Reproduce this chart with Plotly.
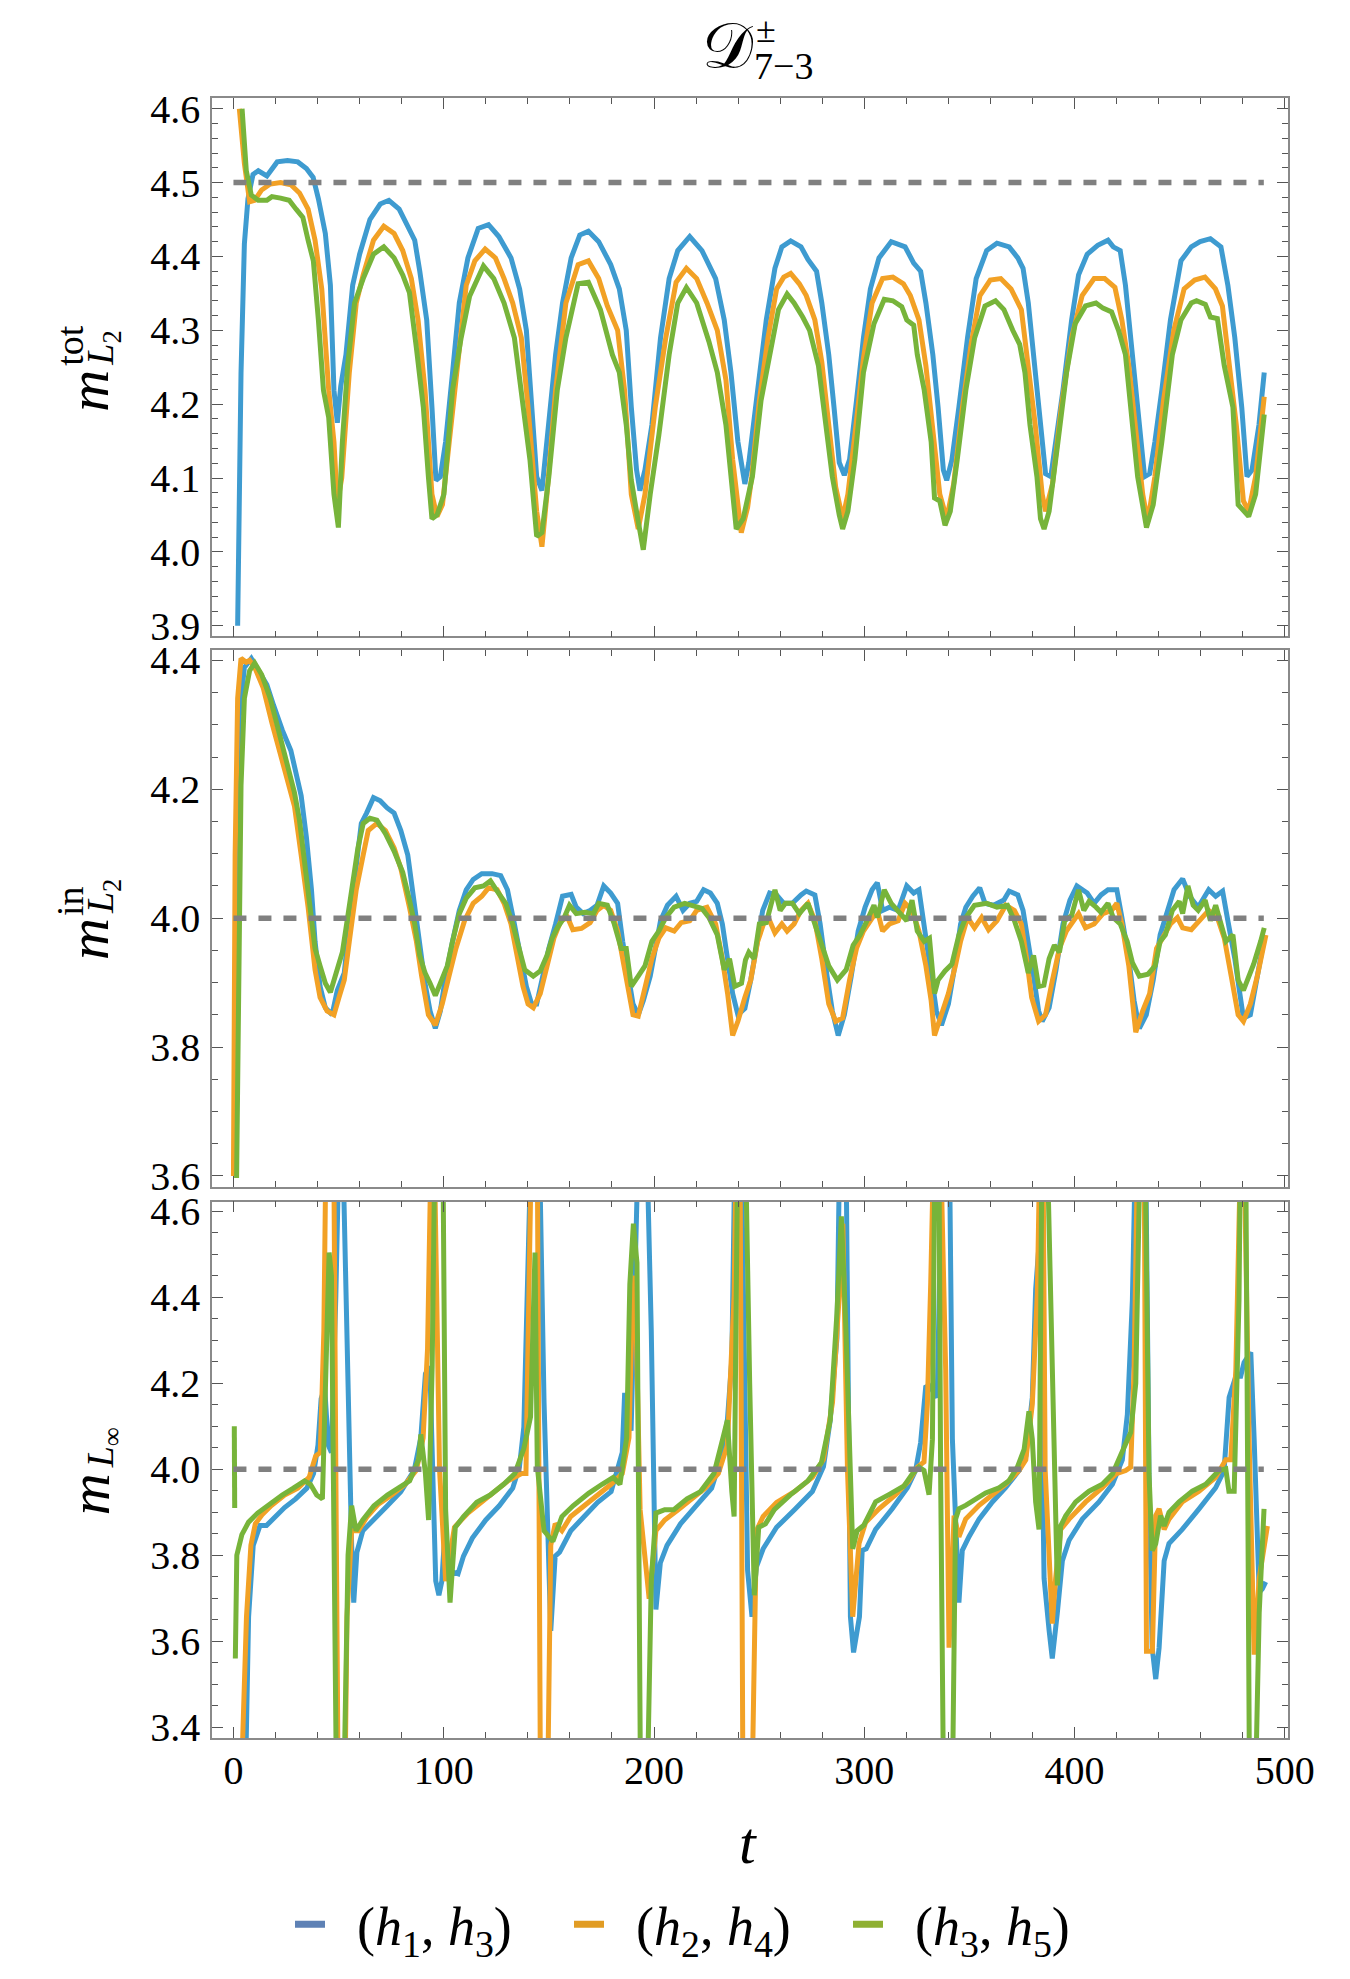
import plotly.graph_objects as go

# ---------------- data ----------------
# top panel: m^tot_{L2}
tot_h13 = [(2.0,3.90),(3.6,4.243),(5.2,4.417),(6.9,4.478),(9.3,4.511),(11.8,4.516),(15.9,4.509),(20.8,4.528),(25.7,4.530),(30.6,4.528),(34.7,4.519),(37.9,4.507),(40.4,4.478),(43.7,4.431),(46.1,4.361),(47.8,4.219),(49.4,4.175),(51.0,4.224),(53.5,4.267),(56.7,4.361),(60.0,4.403),(64.9,4.45),(69.8,4.471),(73.9,4.476),(78.8,4.464),(82.9,4.441),(86.2,4.422),(88.6,4.38),(91.9,4.314),(94.4,4.196),(96.3,4.097),(98.4,4.102),(100.9,4.149),(104.2,4.243),(107.4,4.337),(111.5,4.398),(116.4,4.438),(121.3,4.443),(126.2,4.427),(132.0,4.398),(136.1,4.356),(139.3,4.30),(141.8,4.196),(144.2,4.102),(146.7,4.083),(149.1,4.149),(153.2,4.267),(156.5,4.337),(160.6,4.398),(164.7,4.429),(168.8,4.434),(173.7,4.42),(179.4,4.389),(183.5,4.356),(186.8,4.30),(189.2,4.196),(191.7,4.111),(193.3,4.083),(195.7,4.111),(199.0,4.172),(203.1,4.29),(207.2,4.37),(211.3,4.408),(217.0,4.427),(222.8,4.408),(229.3,4.37),(233.4,4.314),(236.6,4.243),(239.9,4.149),(243.2,4.092),(245.1,4.121),(249.3,4.219),(253.4,4.314),(257.5,4.384),(260.8,4.413),(265.0,4.421),(269.9,4.413),(273.2,4.396),(277.3,4.38),(279.8,4.337),(283.1,4.267),(285.6,4.196),(288.1,4.121),(290.5,4.104),(293.0,4.125),(296.3,4.205),(299.6,4.29),(302.9,4.356),(307.0,4.398),(312.8,4.42),(319.4,4.413),(323.5,4.391),(326.8,4.38),(329.3,4.337),(332.6,4.267),(335.1,4.196),(337.6,4.111),(339.2,4.097),(341.7,4.125),(345.0,4.196),(349.1,4.29),(353.2,4.37),(358.2,4.408),(363.1,4.418),(368.9,4.413),(373.0,4.398),(375.5,4.384),(378.0,4.337),(381.3,4.243),(383.8,4.172),(386.2,4.106),(388.7,4.102),(391.2,4.149),(394.5,4.219),(398.6,4.314),(401.9,4.375),(406.0,4.403),(411.0,4.415),(415.9,4.422),(418.4,4.413),(421.7,4.408),(424.2,4.361),(427.5,4.267),(430.8,4.172),(433.3,4.102),(435.7,4.106),(438.2,4.149),(441.5,4.219),(445.6,4.314),(450.6,4.394),(455.5,4.413),(459.7,4.42),(464.6,4.424),(469.6,4.413),(472.9,4.361),(476.2,4.29),(479.5,4.196),(482.0,4.102),(484.4,4.111),(487.7,4.172),(490.2,4.243)]
tot_h24 = [(2.8,4.60),(5.2,4.526),(7.7,4.474),(10.1,4.476),(13.4,4.49),(17.5,4.498),(22.4,4.50),(27.3,4.497),(31.4,4.486),(35.5,4.464),(38.8,4.422),(42.0,4.356),(45.3,4.219),(47.8,4.149),(49.4,4.065),(51.5,4.10),(55.1,4.243),(58.4,4.337),(61.7,4.375),(66.6,4.422),(71.5,4.441),(76.4,4.431),(80.5,4.408),(84.6,4.37),(87.8,4.314),(91.1,4.219),(94.4,4.078),(96.8,4.048),(99.4,4.064),(101.7,4.125),(105.8,4.243),(110.7,4.361),(114.8,4.394),(119.7,4.41),(124.6,4.398),(128.7,4.37),(132.8,4.337),(136.9,4.29),(140.1,4.196),(144.2,4.055),(146.7,4.007),(149.1,4.078),(153.2,4.219),(158.1,4.337),(163.9,4.389),(168.8,4.394),(173.7,4.37),(177.8,4.333),(182.7,4.30),(186.0,4.219),(189.2,4.078),(192.5,4.031),(195.7,4.078),(200.6,4.196),(205.6,4.29),(210.5,4.365),(215.4,4.384),(220.3,4.37),(225.2,4.337),(230.1,4.30),(234.2,4.233),(237.4,4.125),(241.5,4.026),(244.5,4.06),(246.5,4.102),(250.1,4.205),(254.2,4.29),(258.3,4.356),(261.7,4.372),(265.0,4.377),(269.1,4.363),(272.4,4.347),(276.5,4.314),(279.8,4.257),(283.1,4.172),(286.4,4.088),(289.7,4.045),(292.2,4.078),(295.5,4.158),(299.6,4.262),(303.7,4.337),(308.7,4.37),(313.6,4.372),(318.6,4.363),(321.9,4.347),(326.0,4.314),(329.3,4.252),(332.6,4.172),(335.9,4.078),(339.2,4.045),(342.5,4.092),(346.7,4.196),(350.8,4.281),(355.0,4.347),(359.9,4.368),(364.9,4.37),(369.8,4.356),(374.7,4.328),(378.0,4.252),(381.3,4.172),(384.6,4.078),(386.2,4.055),(389.5,4.092),(393.7,4.196),(398.6,4.29),(403.6,4.347),(409.3,4.37),(414.3,4.37),(419.2,4.358),(422.5,4.314),(425.8,4.252),(429.1,4.172),(432.4,4.078),(434.8,4.041),(438.2,4.102),(442.3,4.205),(447.2,4.30),(452.1,4.356),(457.1,4.368),(462.0,4.372),(467.0,4.356),(470.3,4.333),(473.6,4.252),(476.9,4.172),(480.3,4.069),(482.8,4.055),(486.1,4.102),(490.2,4.21)]
tot_h35 = [(4.1,4.60),(6.1,4.516),(8.5,4.483),(11.8,4.476),(15.9,4.476),(18.3,4.481),(22.4,4.479),(26.5,4.476),(29.8,4.464),(33.0,4.453),(35.5,4.422),(38.0,4.394),(40.4,4.314),(42.8,4.219),(45.3,4.182),(47.8,4.078),(49.9,4.033),(51.8,4.149),(54.3,4.252),(57.6,4.337),(61.7,4.37),(66.6,4.403),(71.5,4.413),(76.4,4.398),(80.5,4.375),(83.7,4.351),(87.0,4.276),(90.3,4.196),(92.7,4.102),(94.4,4.045),(96.8,4.05),(100.1,4.078),(104.2,4.219),(108.3,4.29),(112.3,4.346),(118.9,4.387),(123.8,4.37),(128.7,4.337),(133.6,4.29),(136.9,4.219),(141.0,4.125),(144.2,4.021),(146.7,4.026),(150.0,4.102),(154.0,4.219),(158.1,4.29),(163.9,4.363),(168.8,4.365),(174.5,4.328),(180.2,4.267),(183.5,4.243),(186.8,4.172),(189.2,4.097),(192.5,4.041),(194.9,4.003),(198.2,4.078),(202.3,4.158),(207.2,4.267),(211.3,4.337),(215.4,4.358),(220.3,4.337),(226.1,4.285),(230.1,4.243),(234.2,4.172),(236.6,4.102),(239.1,4.031),(242.4,4.045),(246.8,4.102),(250.9,4.205),(255.0,4.267),(259.2,4.328),(263.3,4.349),(266.6,4.337),(270.7,4.318),(274.0,4.30),(278.2,4.252),(281.5,4.172),(284.8,4.102),(288.1,4.05),(289.7,4.031),(292.2,4.055),(295.5,4.125),(299.6,4.243),(304.6,4.309),(309.5,4.342),(313.6,4.34),(317.8,4.332),(320.2,4.314),(323.5,4.307),(325.2,4.267),(328.5,4.219),(331.8,4.149),(333.4,4.073),(335.9,4.069),(338.4,4.036),(340.9,4.055),(344.2,4.125),(348.3,4.219),(352.5,4.29),(357.4,4.333),(362.4,4.34),(366.4,4.328),(370.6,4.30),(373.9,4.281),(376.4,4.243),(378.8,4.172),(382.1,4.102),(383.8,4.045),(385.5,4.031),(387.9,4.055),(392.1,4.149),(396.2,4.243),(400.3,4.309),(405.2,4.333),(410.2,4.337),(413.5,4.33),(417.6,4.325),(420.9,4.30),(424.2,4.267),(426.7,4.196),(430.0,4.102),(434.2,4.033),(437.4,4.064),(441.5,4.149),(446.5,4.267),(450.6,4.314),(455.5,4.337),(458.0,4.34),(462.2,4.335),(464.6,4.318),(467.9,4.316),(471.2,4.252),(475.3,4.196),(477.8,4.064),(480.3,4.055),(482.8,4.048),(486.1,4.078),(490.2,4.186)]

# middle panel: m^in_{L2}
in_h13 = [(0.8,3.62),(1.1,3.99),(2.8,4.314),(5.2,4.389),(8.5,4.403),(11.8,4.384),(15.9,4.362),(19.1,4.33),(23.2,4.292),(27.3,4.26),(29.8,4.222),(32.2,4.19),(34.7,4.125),(37.1,4.044),(38.8,3.964),(41.2,3.894),(43.7,3.861),(46.9,3.85),(49.4,3.888),(52.7,3.915),(55.1,3.991),(58.4,4.088),(60.8,4.147),(63.3,4.163),(66.6,4.187),(69.8,4.182),(73.1,4.171),(76.4,4.163),(79.6,4.136),(82.9,4.098),(86.2,4.017),(88.6,3.947),(91.1,3.899),(93.5,3.856),(96.0,3.829),(98.4,3.856),(100.9,3.91),(104.2,3.964),(107.4,4.012),(110.7,4.044),(114.0,4.06),(118.1,4.069),(123.0,4.069),(127.1,4.066),(130.3,4.044),(133.6,3.991),(136.9,3.937),(139.3,3.894),(141.8,3.867),(144.2,3.867),(146.7,3.904),(150.0,3.953),(153.2,3.991),(156.5,4.034),(160.6,4.037),(163.0,4.017),(166.3,4.007),(169.6,4.012),(172.9,4.02),(176.1,4.05),(179.4,4.039),(182.7,4.023),(185.1,3.964),(187.6,3.91),(190.0,3.867),(192.5,3.85),(194.9,3.872),(198.2,3.91),(200.7,3.958),(203.1,3.996),(206.4,4.02),(210.5,4.034),(213.8,4.012),(217.0,4.023),(220.3,4.026),(223.6,4.044),(226.8,4.039),(230.1,4.023),(232.5,3.991),(235.0,3.937),(237.4,3.883),(239.9,3.85),(243.2,3.86),(246.0,3.904),(249.3,3.964),(251.7,4.012),(255.0,4.039),(258.3,4.036),(261.7,4.023),(265.8,4.023),(269.9,4.036),(272.4,4.042),(276.5,4.036),(279.0,3.991),(282.3,3.91),(284.8,3.856),(287.6,3.818),(290.5,3.85),(293.8,3.91),(297.1,3.98),(300.4,4.017),(303.7,4.044),(306.2,4.055),(308.7,4.012),(312.0,4.017),(316.1,4.012),(320.2,4.05),(323.5,4.039),(326.0,4.044),(328.5,3.991),(331.8,3.92),(334.3,3.856),(336.7,3.834),(340.0,3.867),(342.5,3.915),(345.8,3.991),(348.3,4.017),(351.6,4.034),(354.9,4.047),(357.4,4.023),(361.5,4.02),(366.4,4.028),(368.9,4.042),(373.0,4.036),(375.5,4.012),(378.0,3.964),(380.5,3.91),(382.9,3.856),(384.6,3.84),(387.9,3.861),(391.2,3.92),(394.5,3.991),(397.8,4.028),(401.1,4.05),(403.6,4.044),(406.0,4.039),(409.3,4.023),(412.6,4.036),(415.9,4.044),(420.1,4.044),(422.5,4.001),(425.8,3.937),(428.3,3.872),(430.8,3.829),(434.1,3.85),(437.4,3.904),(440.7,3.974),(444.0,4.012),(447.3,4.044),(451.4,4.061),(454.7,4.034),(458.8,4.017),(463.8,4.044),(467.1,4.034),(470.4,4.042),(472.9,3.996),(476.2,3.937),(478.6,3.883),(480.3,3.845),(483.6,3.85),(486.9,3.91),(490.2,3.969)]
in_h24 = [(0.0,3.60),(0.8,4.098),(2.0,4.341),(3.6,4.403),(6.1,4.397),(7.7,4.40),(10.1,4.389),(14.2,4.357),(18.3,4.303),(22.4,4.255),(25.7,4.211),(29.0,4.174),(32.2,4.098),(35.5,4.017),(38.8,3.92),(41.2,3.877),(44.5,3.856),(47.8,3.85),(50.2,3.877),(52.7,3.904),(55.1,3.964),(58.4,4.044),(61.7,4.098),(64.1,4.136),(68.2,4.147),(72.3,4.136),(76.4,4.109),(79.6,4.077),(83.7,4.017),(87.0,3.964),(89.5,3.91),(92.7,3.85),(96.0,3.834),(99.3,3.867),(102.5,3.91),(105.8,3.953),(109.9,3.996),(114.0,4.023),(118.1,4.034),(121.3,4.047),(125.4,4.044),(128.7,4.023),(132.0,3.991),(135.2,3.937),(137.7,3.894),(140.1,3.867),(142.6,3.861),(145.9,3.883),(149.1,3.926),(152.4,3.969),(155.7,3.996),(158.9,4.001),(161.4,3.982),(165.5,3.984),(169.6,3.993),(172.9,4.012),(176.1,4.02),(179.4,4.012),(182.7,3.98),(185.1,3.937),(187.6,3.883),(190.0,3.85),(192.5,3.848),(195.7,3.891),(199.0,3.937),(202.3,3.969),(205.6,3.985),(209.6,3.98),(212.9,3.993),(217.0,3.996),(220.3,4.012),(225.2,4.017),(229.3,3.991),(232.5,3.937),(235.0,3.883),(237.4,3.818),(239.9,3.84),(243.2,3.877),(246.0,3.904),(249.3,3.964),(252.6,3.996),(255.0,3.996),(257.5,3.977),(260.8,3.991),(263.3,3.98),(266.6,3.991),(269.9,4.012),(273.2,4.023),(276.5,3.996),(279.8,3.937),(283.1,3.867),(286.4,3.84),(289.7,3.845),(293.0,3.904),(296.3,3.953),(299.6,3.98),(302.9,3.996),(306.2,4.012),(308.7,3.98),(312.0,3.991),(316.1,3.996),(319.4,4.023),(322.7,4.012),(326.0,3.98),(329.3,3.926),(331.8,3.872),(333.4,3.818),(336.7,3.85),(340.0,3.883),(343.3,3.926),(345.8,3.964),(349.1,4.001),(352.4,3.985),(355.8,4.001),(359.1,3.982),(363.1,3.996),(367.3,4.02),(371.4,4.012),(374.7,3.991),(377.2,3.937),(379.6,3.877),(382.9,3.84),(386.2,3.85),(389.5,3.904),(392.8,3.953),(396.1,3.98),(399.4,3.996),(401.9,4.007),(405.2,3.985),(409.3,3.991),(413.5,4.007),(417.6,4.012),(420.1,4.023),(422.5,3.991),(425.8,3.926),(429.1,3.823),(432.4,3.856),(435.7,3.883),(439.0,3.953),(442.3,3.974),(445.6,3.991),(448.9,4.001),(451.4,3.985),(455.5,3.982),(459.7,3.996),(463.8,4.012),(467.9,4.001),(471.2,3.969),(474.5,3.91),(477.8,3.85),(480.3,3.84),(483.6,3.867),(486.9,3.91),(491.0,3.974)]
in_h35 = [(1.5,3.597),(2.5,3.99),(3.6,4.206),(5.2,4.341),(7.7,4.384),(10.1,4.396),(13.4,4.378),(17.5,4.341),(22.4,4.281),(26.5,4.228),(29.0,4.195),(31.4,4.152),(33.9,4.088),(36.3,4.017),(38.8,3.953),(41.2,3.926),(43.7,3.899),(46.1,3.885),(48.6,3.91),(50.2,3.931),(51.8,3.947),(54.3,4.001),(56.7,4.055),(59.2,4.109),(61.7,4.147),(64.9,4.155),(68.2,4.152),(72.3,4.131),(76.4,4.104),(80.5,4.071),(83.7,4.028),(86.2,3.991),(88.6,3.942),(91.1,3.915),(93.5,3.899),(96.0,3.88),(98.4,3.899),(101.7,3.926),(104.2,3.964),(107.4,4.007),(110.7,4.031),(114.8,4.047),(118.9,4.05),(122.2,4.058),(125.4,4.042),(129.5,4.023),(132.8,3.991),(136.1,3.947),(138.5,3.92),(142.6,3.91),(145.9,3.918),(149.1,3.942),(151.6,3.969),(154.0,3.985),(157.3,4.001),(159.8,4.02),(163.0,4.007),(167.1,4.009),(171.2,4.007),(173.7,4.023),(177.8,4.02),(181.1,3.991),(184.4,3.953),(186.8,3.953),(189.2,3.894),(192.5,3.91),(195.7,3.926),(199.0,3.964),(202.3,3.98),(205.6,4.001),(209.6,4.017),(214.6,4.023),(218.7,4.02),(222.8,4.015),(226.1,4.001),(230.1,3.974),(233.4,3.92),(235.9,3.937),(238.4,3.894),(241.6,3.899),(243.5,3.935),(245.1,3.947),(247.6,3.937),(250.1,3.991),(253.4,3.993),(257.5,4.044),(260.0,4.012),(262.5,4.023),(265.8,4.023),(269.1,4.007),(273.2,4.023),(276.5,3.991),(279.8,3.964),(283.1,3.926),(287.2,3.904),(291.4,3.92),(294.7,3.958),(298.0,3.974),(301.3,3.996),(304.6,4.02),(306.2,4.001),(309.5,4.044),(312.8,4.023),(316.1,4.012),(320.2,3.996),(322.7,4.028),(325.2,3.98),(328.5,3.964),(331.0,3.969),(333.4,3.883),(335.1,3.904),(338.4,3.918),(341.7,3.929),(345.0,3.974),(348.3,4.001),(352.4,4.02),(358.2,4.023),(363.1,4.017),(368.1,4.02),(371.4,3.996),(374.7,3.964),(378.0,3.915),(380.5,3.942),(382.9,3.894),(385.4,3.896),(387.9,3.937),(390.4,3.958),(392.8,3.947),(395.3,3.996),(398.6,4.004),(401.9,4.044),(404.4,4.012),(406.9,4.026),(410.2,4.017),(412.6,4.009),(415.9,4.023),(418.4,4.001),(421.7,3.991),(425.0,3.964),(427.5,3.931),(430.8,3.91),(434.9,3.913),(438.3,3.926),(440.7,3.964),(443.2,3.974),(446.5,4.012),(449.8,4.026),(451.4,4.007),(453.9,4.05),(456.4,4.02),(458.8,4.012),(462.1,4.028),(464.6,3.996),(467.1,4.02),(469.6,3.991),(472.0,3.964),(475.3,3.974),(477.8,3.904),(480.3,3.888),(482.8,3.91),(485.2,3.929),(488.5,3.964),(490.2,3.985)]

# bottom panel: m_{L_inf}  (values outside the axis range are clipped by the axes)
inf_h13 = [(5.8,3.30),(7.2,3.657),(9.4,3.823),(12.6,3.869),(15.7,3.869),(18.9,3.886),(24.3,3.911),(29.6,3.931),(34.9,3.956),(38.1,3.99),(40.2,4.056),(41.7,4.164),(43.4,4.189),(45.1,4.056),(46.6,4.039),(48.7,4.405),(50.2,4.75),(52.0,4.75),(54.0,4.239),(56.2,3.823),(57.2,3.69),(58.7,3.807),(61.5,3.857),(66.8,3.882),(73.2,3.915),(79.6,3.948),(86.0,3.998),(89.1,4.073),(91.3,4.222),(93.4,4.239),(94.9,3.99),(96.2,3.74),(97.7,3.707),(99.1,3.74),(100.5,3.85),(102.5,3.75),(105.0,3.76),(106.8,3.757),(109.4,3.798),(113.6,3.84),(120.0,3.882),(126.4,3.915),(132.8,3.956),(136.0,4.006),(138.1,4.098),(140.2,4.57),(141.5,4.75),(145.5,4.75),(147.7,4.156),(150.9,3.624),(153.0,3.798),(155.1,3.807),(160.4,3.857),(166.8,3.89),(173.2,3.923),(179.6,3.948),(184.9,4.039),(186.0,4.172),(188.1,4.172),(189.1,4.089),(191.3,4.529),(192.5,4.75),(196.6,4.75),(198.7,4.322),(200.9,3.674),(203.0,3.782),(206.2,3.823),(212.6,3.873),(220.0,3.915),(227.4,3.956),(231.7,4.023),(234.9,4.114),(237.0,4.255),(238.5,4.75),(241.5,4.75),(244.5,3.765),(246.6,3.657),(248.7,3.773),(251.9,3.815),(258.3,3.865),(266.8,3.906),(275.3,3.948),(280.6,4.006),(283.8,4.114),(287.0,4.305),(288.3,4.75),(291.3,4.75),(293.4,3.657),(294.9,3.574),(297.7,3.657),(299.0,3.811),(300.9,3.815),(305.4,3.86),(313.3,3.908),(320.5,3.957),(324.4,3.997),(326.8,4.062),(329.2,4.191),(330.8,4.195),(334.7,4.167),(337.0,4.75),(340.5,4.75),(341.9,4.07),(345.0,3.69),(346.6,3.811),(349.8,3.843),(354.6,3.884),(360.9,3.924),(367.2,3.957),(373.6,3.997),(376.8,4.03),(379.9,4.167),(381.5,4.418),(383.1,4.523),(384.3,4.15),(385.5,3.746),(387.9,3.625),(389.4,3.56),(391.8,3.666),(394.2,3.787),(397.4,3.835),(403.7,3.884),(411.6,3.924),(418.0,3.965),(422.7,4.022),(425.1,4.127),(427.5,4.394),(429.0,4.75),(433.8,4.75),(435.4,3.989),(436.9,3.585),(438.6,3.512),(440.2,3.585),(442.6,3.787),(444.9,3.827),(451.2,3.86),(459.2,3.908),(467.1,3.957),(471.1,3.997),(473.5,4.167),(476.7,4.216),(479.0,4.216),(480.6,4.248),(483.8,4.272),(485.4,4.07),(487.8,3.714),(489.3,3.722),(490.9,3.738)]
inf_h24 = [(3.6,3.25),(6.2,3.657),(8.3,3.823),(10.4,3.873),(13.6,3.894),(17.9,3.915),(24.3,3.94),(30.6,3.956),(36.0,3.981),(39.1,4.031),(41.3,4.039),(43.0,4.322),(44.0,4.75),(47.7,4.75),(48.7,3.99),(49.8,3.25),(53.0,3.25),(54.0,3.657),(56.2,3.857),(59.4,3.857),(63.6,3.89),(68.9,3.919),(75.3,3.94),(81.7,3.965),(87.0,3.998),(90.2,4.073),(92.3,4.28),(94.0,4.75),(95.5,4.75),(98.0,4.0),(100.9,3.74),(103.0,3.80),(105.1,3.865),(111.5,3.898),(117.9,3.923),(124.3,3.948),(130.6,3.973),(137.0,3.99),(139.1,3.99),(140.2,4.322),(141.7,4.75),(144.5,4.75),(146.0,3.25),(149.4,3.25),(150.9,3.823),(153.0,3.873),(156.2,3.857),(160.4,3.89),(166.8,3.915),(173.2,3.94),(179.6,3.965),(184.9,3.99),(188.1,4.073),(189.8,4.405),(191.0,4.45),(193.4,3.906),(196.6,3.75),(197.7,3.699),(200.9,3.857),(205.1,3.882),(211.5,3.906),(217.9,3.931),(224.3,3.956),(230.6,3.99),(234.9,4.056),(238.1,4.405),(239.1,4.75),(240.9,4.75),(242.3,3.25),(246.6,3.25),(248.7,3.857),(251.9,3.89),(258.3,3.923),(266.8,3.948),(275.3,3.981),(280.6,4.023),(284.9,4.156),(288.1,4.405),(289.8,4.571),(292.0,4.0),(294.5,3.657),(297.5,3.827),(300.6,3.876),(307.0,3.908),(314.9,3.941),(321.2,3.973),(325.2,4.005),(328.4,4.017),(330.0,4.151),(331.6,4.434),(333.0,4.75),(336.3,4.75),(338.7,4.232),(340.3,3.585),(342.7,3.892),(345.0,3.843),(348.2,3.884),(354.6,3.916),(360.9,3.941),(367.2,3.965),(373.6,3.997),(376.8,4.022),(379.9,4.151),(382.3,4.41),(383.5,4.75),(385.0,4.75),(386.0,4.0),(387.9,3.763),(389.4,3.641),(391.0,3.746),(393.4,3.86),(397.4,3.884),(405.3,3.924),(413.2,3.957),(419.6,3.989),(424.3,3.997),(426.7,4.005),(428.3,4.232),(430.0,4.75),(433.1,4.75),(434.2,3.577),(437.0,3.577),(438.6,3.892),(440.2,3.908),(442.6,3.86),(444.9,3.884),(451.2,3.924),(459.2,3.949),(467.1,3.981),(471.9,4.022),(474.3,4.022),(476.7,4.232),(478.2,4.556),(479.0,4.75),(480.6,4.75),(483.0,4.07),(485.4,3.569),(487.8,3.746),(491.7,3.868)]
inf_h35 = [(0.4,4.10),(0.6,3.91),(None,None),(0.9,3.56),(1.6,3.80),(4.0,3.848),(7.2,3.877),(11.5,3.898),(17.9,3.923),(23.2,3.94),(28.5,3.956),(33.8,3.973),(36.6,3.965),(39.6,3.94),(42.3,3.931),(43.4,4.156),(45.5,4.504),(46.6,4.45),(48.3,3.40),(49.0,3.25),(52.5,3.25),(54.5,3.80),(56.2,3.915),(58.3,3.857),(61.5,3.882),(66.8,3.915),(73.2,3.94),(78.5,3.956),(83.8,3.973),(88.1,4.023),(89.1,4.081),(91.3,3.99),(92.8,3.882),(94.5,4.239),(95.8,4.75),(99.6,4.75),(100.9,3.906),(103.0,3.69),(105.5,3.865),(109.4,3.89),(115.7,3.923),(122.1,3.94),(128.5,3.965),(133.8,3.99),(138.1,4.048),(141.3,4.122),(143.4,4.504),(144.5,4.006),(147.7,3.857),(151.9,3.832),(156.2,3.89),(161.5,3.915),(168.9,3.944),(175.3,3.965),(180.6,3.981),(183.8,3.965),(187.0,4.073),(188.5,4.43),(190.2,4.571),(191.9,4.48),(193.2,3.40),(193.6,3.25),(196.8,3.25),(198.7,3.74),(200.9,3.898),(205.1,3.906),(209.4,3.906),(215.7,3.931),(222.1,3.948),(228.5,3.99),(232.8,4.073),(234.9,4.114),(237.0,3.948),(238.1,3.89),(239.8,4.75),(243.5,4.75),(245.5,4.2),(247.7,3.707),(249.8,3.865),(253.0,3.873),(257.2,3.906),(264.7,3.94),(273.2,3.973),(279.6,4.015),(283.8,4.114),(287.0,4.363),(289.1,4.588),(291.3,4.322),(294.5,3.815),(296.6,3.857),(299.8,3.87),(301.9,3.89),(305.4,3.924),(311.7,3.941),(318.9,3.961),(322.8,3.989),(326.0,4.005),(328.4,3.997),(330.0,3.965),(330.8,3.941),(332.4,4.07),(333.6,4.75),(335.5,4.75),(336.3,3.989),(337.7,3.25),(341.9,3.25),(343.4,3.884),(345.0,3.908),(348.2,3.916),(352.9,3.932),(357.7,3.945),(364.1,3.957),(368.8,3.973),(372.8,4.005),(376.0,4.046),(378.3,4.135),(379.9,4.07),(381.5,3.924),(383.1,3.86),(384.5,4.75),(387.0,4.75),(391.8,3.73),(393.4,3.868),(395.8,3.892),(400.5,3.924),(406.9,3.949),(413.2,3.965),(418.0,3.989),(422.7,4.038),(426.7,4.086),(429.1,4.20),(431.2,4.75),(433.5,4.75),(435.4,3.989),(436.9,3.811),(438.6,3.827),(440.9,3.892),(442.6,3.868),(444.9,3.90),(449.7,3.924),(456.0,3.949),(462.4,3.965),(468.7,3.997),(471.9,4.001),(473.4,3.949),(475.9,3.949),(478.2,4.394),(478.9,4.75),(481.4,4.75),(482.8,3.40),(483.2,3.25),(486.0,3.25),(487.8,3.666),(490.1,3.908)]

ref_levels = [4.5, 4.0, 4.0]
ref_span = [0, 490]
series_names = ["\u00a0\u00a0(<i>h</i><sub>1</sub>, <i>h</i><sub>3</sub>)",
                "\u00a0\u00a0(<i>h</i><sub>2</sub>, <i>h</i><sub>4</sub>)",
                "\u00a0\u00a0(<i>h</i><sub>3</sub>, <i>h</i><sub>5</sub>)"]
x_ticks = [0, 100, 200, 300, 400, 500]

# ---------------- styling ----------------
LINE_COLORS = ["#3E9BD0", "#F2A125", "#77B43A"]
LEGEND_COLORS = ["#5E81B5", "#E19C24", "#8FB032"]
FONT = "Liberation Serif, Times New Roman, serif"
W, H = 1350, 1979
L, R, T, B = 212, 1288, 98, 1740

def px(x):
    return (x - L) / (R - L)

def py(y):
    return (B - y) / (B - T)

panels = [
    dict(data=[tot_h13, tot_h24, tot_h35], yr=[3.8857, 4.6145], dt=0.1, mdt=0.02, t0=3.9,
         dom=[py(637), 1.0], ax=""),
    dict(data=[in_h13, in_h24, in_h35], yr=[3.5834, 4.4155], dt=0.2, mdt=0.05, t0=3.6,
         dom=[py(1188), py(651)], ax="2"),
    dict(data=[inf_h13, inf_h24, inf_h35], yr=[3.375, 4.6223], dt=0.2, mdt=0.05, t0=3.4,
         dom=[0.0, py(1203)], ax="3"),
]

fig = go.Figure()
layout = dict(width=W, height=H, plot_bgcolor="white", paper_bgcolor="white",
              margin=dict(l=L, r=W - R, t=T, b=H - B), showlegend=True)

tickcol = "#555555"
framecol = "#8a8a8a"
for i, p in enumerate(panels):
    xa = "x" + p["ax"]
    ya = "y" + p["ax"]
    for k, ser in enumerate(p["data"]):
        t = [a for a, b in ser]
        v = [b for a, b in ser]
        fig.add_trace(go.Scatter(x=t, y=v, mode="lines", xaxis=xa, yaxis=ya,
                                 line=dict(color=LINE_COLORS[k], width=5),
                                 showlegend=False, hoverinfo="skip"))
    fig.add_trace(go.Scatter(x=ref_span, y=[ref_levels[i]] * 2, mode="lines", xaxis=xa, yaxis=ya,
                             line=dict(color="#808080", width=5.5, dash="13px,12px"),
                             showlegend=False, hoverinfo="skip"))
    last = (i == 2)
    layout["xaxis" + p["ax"]] = dict(
        domain=[0, 1], anchor=ya, range=[-10.2, 501.5], showgrid=False, zeroline=False,
        showline=True, linecolor=framecol, linewidth=1.5, mirror="allticks",
        ticks="inside", ticklen=11, tickwidth=1.3, tickcolor=tickcol,
        tickmode="array", tickvals=x_ticks, ticktext=[str(x) for x in x_ticks],
        showticklabels=last, tickfont=dict(family=FONT, size=40, color="black"),
        ticklabelstandoff=-4,
        minor=dict(ticks="inside", ticklen=6, tickwidth=1.1, tickcolor=tickcol,
                   dtick=20, tick0=0, showgrid=False))
    layout["yaxis" + p["ax"]] = dict(
        domain=p["dom"], anchor=xa, range=p["yr"], showgrid=False, zeroline=False,
        showline=True, linecolor=framecol, linewidth=1.5, mirror="allticks",
        ticks="inside", ticklen=11, tickwidth=1.3, tickcolor=tickcol,
        dtick=p["dt"], tick0=p["t0"], tickformat=".1f",
        tickfont=dict(family=FONT, size=40, color="black"), ticklabelstandoff=2,
        minor=dict(ticks="inside", ticklen=6, tickwidth=1.1, tickcolor=tickcol,
                   dtick=p["mdt"], tick0=p["t0"], showgrid=False))

# legend entries (the reference legend uses muted swatch colours)
for k in range(3):
    fig.add_trace(go.Scatter(x=[None], y=[None], mode="lines", xaxis="x3", yaxis="y3",
                             line=dict(color=LEGEND_COLORS[k], width=7),
                             name=series_names[k], showlegend=True))

layout["legend"] = dict(orientation="h", x=px(290), xanchor="left", y=py(1927), yanchor="middle",
                        font=dict(family=FONT, size=54, color="black"),
                        entrywidth=234, entrywidthmode="pixels", bgcolor="rgba(0,0,0,0)",
                        itemwidth=30, tracegroupgap=0)

ann = []
def add_text(text, x, y, size, angle=0, family=FONT):
    ann.append(dict(text=text, x=px(x), y=py(y), xref="paper", yref="paper",
                    xanchor="center", yanchor="middle", showarrow=False, textangle=angle,
                    font=dict(family=family, size=size, color="black")))

# title  D^{±}_{7-3}
add_text("\U0001D49F", 728, 46, 64, family="DejaVu Serif")
add_text("±", 766, 30, 36)
add_text("7−3", 783, 66, 38)

# x axis title
add_text("<i>t</i>", 748, 1845, 60)

# y axis titles (rotated): base m, superscript stacked left, subscript stacked right
ycent = [(391, 346, 349), (940, 902, 898), (1496, None, 1450)]
sups = ["tot", "in", None]
subs = ["<i>L</i><sub>2</sub>", "<i>L</i><sub>2</sub>", "<i>L</i><sub>∞</sub>"]
for i in range(3):
    my, sy, by = ycent[i]
    add_text("<i>m</i>", 89, my, 58, angle=-90)
    if sups[i]:
        add_text(sups[i], 70, sy, 38, angle=-90)
    add_text(subs[i], 103, by, 38, angle=-90)

layout["annotations"] = ann
fig.update_layout(**layout)
fig.write_html("out.html")
